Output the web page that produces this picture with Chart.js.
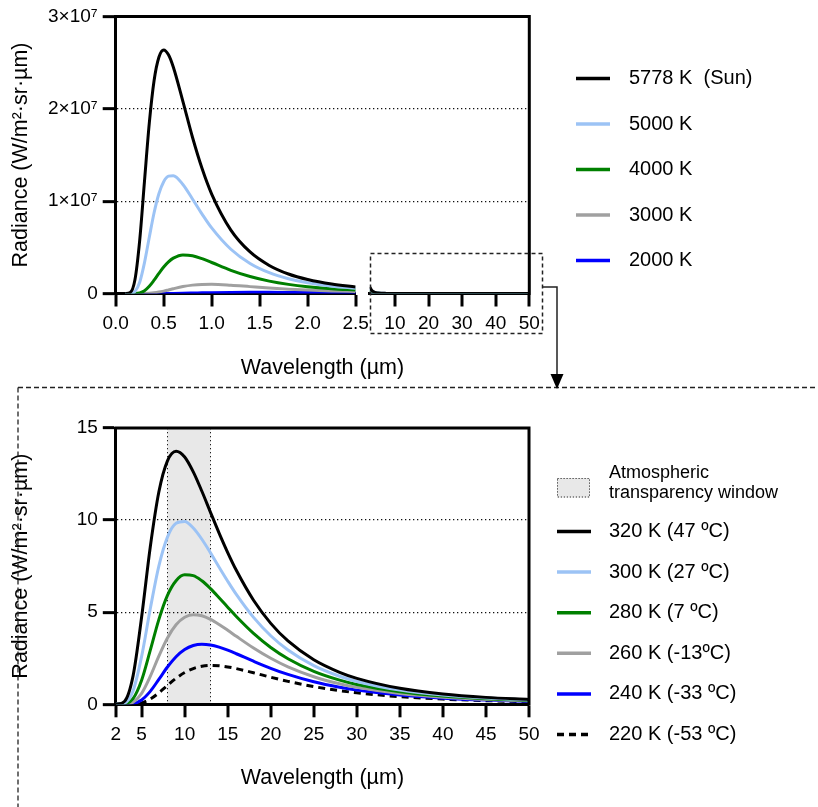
<!DOCTYPE html>
<html>
<head>
<meta charset="utf-8">
<title>Blackbody radiance</title>
<script src="https://cdn.jsdelivr.net/npm/chart.js@4.4.1/dist/chart.umd.min.js"></script>
<style>
  html, body { margin: 0; padding: 0; background: #fff; }
  #wrap { position: relative; width: 818px; height: 807px; overflow: hidden; }
  #wrap canvas { position: absolute; left: 0; }
  #top { top: 0; }
  #bottom { top: 380px; }
</style>
</head>
<body>
<div id="wrap">
  <canvas id="bottom" width="818" height="427"></canvas>
  <canvas id="top" width="818" height="400"></canvas>
</div>
<script>
// ---- top panel, left part of the broken axis (0 - 2.5 um), W/m2.sr.um
const visWl = [0.1, 0.15, 0.2, 0.25, 0.3, 0.35, 0.4, 0.45, 0.5, 0.55, 0.6, 0.7, 0.8, 0.9, 1.0, 1.2, 1.4, 1.6, 1.8, 2.0, 2.25, 2.5];
const rad5778 = [0, 9.7e4, 1.458e6, 5.763e6, 1.218e7, 1.845e7, 2.307e7, 2.559e7, 2.638e7, 2.585e7, 2.453e7, 2.081e7, 1.692e7, 1.353e7, 1.077e7, 6.87e6, 4.50e6, 3.04e6, 2.11e6, 1.51e6, 1.02e6, 7.14e5];
const rad5000 = [0, 7e3, 2.1e5, 1.223e6, 3.346e6, 6.096e6, 8.742e6, 1.080e7, 1.211e7, 1.271e7, 1.276e7, 1.181e7, 1.024e7, 8.60e6, 7.10e6, 4.79e6, 3.25e6, 2.25e6, 1.60e6, 1.16e6, 7.97e5, 5.64e5];
const rad4000 = [0, 0, 6e3, 6.9e4, 3.04e5, 7.81e5, 1.446e6, 2.180e6, 2.865e6, 3.423e6, 3.825e6, 4.182e6, 4.098e6, 3.776e6, 3.356e6, 2.514e6, 1.837e6, 1.341e6, 9.89e5, 7.38e5, 5.23e5, 3.79e5];
const rad3000 = [0, 0, 0, 0, 5.6e3, 2.5e4, 7.2e4, 1.52e5, 2.60e5, 3.87e5, 5.17e5, 7.51e5, 9.08e5, 9.83e5, 9.92e5, 8.96e5, 7.45e5, 5.97e5, 4.72e5, 3.72e5, 2.78e5, 2.10e5];
const rad2000 = [0, 0, 0, 0, 0, 0, 0, 7e2, 2.2e3, 4.9e3, 9.5e3, 2.44e4, 4.52e4, 6.81e4, 8.95e4, 1.195e5, 1.307e5, 1.281e5, 1.180e5, 1.049e5, 8.80e4, 7.27e4];

// ---- top panel, right part of the broken axis (2.5 - 50 um)
const tailWl = [2.5, 3, 4, 5, 7.5, 10, 15, 20, 30, 40, 50];
const tail5778 = [7.14e5, 3.79e5, 1.347e5, 5.91e4, 1.27e4, 4.2e3, 870, 280, 57, 18, 7.5];
const tail5000 = [5.64e5, 3.05e5, 1.104e5, 4.90e4, 1.07e4, 3.6e3, 740, 240, 49, 16, 6.5];
const tail4000 = [3.79e5, 2.12e5, 7.98e4, 3.62e4, 8.2e3, 2.75e3, 580, 190, 39, 12.5, 5.2];
const tail3000 = [2.10e5, 1.24e5, 5.02e4, 2.37e4, 5.6e3, 1.94e3, 420, 140, 29, 9.4, 3.9];
const tail2000 = [7.27e4, 4.90e4, 2.31e4, 1.19e4, 3.1e3, 1.13e3, 260, 90, 19, 6.2, 2.6];

// ---- bottom panel (2 - 50 um)
const irWl = [2, 3, 4, 5, 6, 7, 8, 9, 10, 11, 12, 13, 14, 15, 16, 18, 20, 22, 25, 28, 30, 35, 40, 45, 50];
const rad320 = [0, 0.152, 1.527, 4.739, 8.528, 11.523, 13.218, 13.741, 13.430, 12.622, 11.565, 10.423, 9.297, 8.239, 7.275, 5.649, 4.394, 3.439, 2.420, 1.738, 1.410, 0.868, 0.560, 0.376, 0.262];
const rad300 = [0, 0.056, 0.722, 2.602, 5.174, 7.505, 9.077, 9.829, 9.923, 9.572, 8.960, 8.222, 7.445, 6.684, 5.967, 4.718, 3.722, 2.945, 2.099, 1.523, 1.242, 0.772, 0.502, 0.339, 0.237];
const rad280 = [0, 0.018, 0.307, 1.312, 2.923, 4.599, 5.910, 6.707, 7.028, 6.987, 6.704, 6.280, 5.787, 5.273, 4.768, 3.850, 3.087, 2.475, 1.791, 1.314, 1.078, 0.679, 0.445, 0.303, 0.212];
const rad260 = [0, 0.005, 0.114, 0.595, 1.512, 2.614, 3.604, 4.318, 4.723, 4.864, 4.804, 4.610, 4.335, 4.020, 3.691, 3.054, 2.497, 2.032, 1.497, 1.113, 0.920, 0.587, 0.389, 0.267, 0.188];
const rad240 = [0, 0.001, 0.036, 0.237, 0.701, 1.352, 2.024, 2.585, 2.974, 3.191, 3.261, 3.220, 3.102, 2.936, 2.744, 2.338, 1.955, 1.621, 1.220, 0.922, 0.769, 0.499, 0.335, 0.231, 0.165];
const rad220 = [0, 0, 0.009, 0.080, 0.283, 0.621, 1.024, 1.410, 1.723, 1.941, 2.065, 2.110, 2.092, 2.030, 1.939, 1.711, 1.471, 1.246, 0.962, 0.741, 0.625, 0.414, 0.282, 0.197, 0.141];

const topLabels = ['5778 K  (Sun)', '5000 K', '4000 K', '3000 K', '2000 K'];
const bottomLabels = ['320 K (47 ºC)', '300 K (27 ºC)', '280 K (7 ºC)', '260 K (-13ºC)', '240 K (-33 ºC)', '220 K (-53 ºC)'];
const windowLabel = ['Atmospheric', 'transparency window'];
const windowRange = [8, 13];

const topTicksA = [0, 0.5, 1, 1.5, 2, 2.5];
const topTicksB = [10, 20, 30, 40, 50];
const topTicksY = [0, 1e7, 2e7, 3e7];
const bottomTicksX = [2, 5, 10, 15, 20, 25, 30, 35, 40, 45, 50];
const bottomTicksY = [0, 5, 10, 15];

const FONT = '"Liberation Sans", Arial, Helvetica, sans-serif';
const colors = ['#000000', '#9cc3f5', '#008000', '#a0a0a0', '#0000ff', '#000000'];

Chart.defaults.font.family = FONT;
Chart.defaults.color = '#000';

const tickFont = { family: FONT, size: 19 };
const titleFont = { family: FONT, size: 21.5 };

function pts(xs, ys) {
  return xs.map((x, i) => ({ x: x, y: ys[i] }));
}

function lineSet(label, data, color, xId, extra) {
  return Object.assign({
    label: label,
    data: data,
    xAxisID: xId,
    yAxisID: 'y',
    borderColor: color,
    backgroundColor: color,
    borderWidth: 3,
    pointRadius: 0,
    fill: false,
    cubicInterpolationMode: 'monotone'
  }, extra || {});
}

function fixedTicks(list) {
  return function(scale) { scale.ticks = list.map(v => ({ value: v })); };
}

function tickAxis(min, max, list, fmt) {
  return {
    type: 'linear', position: 'bottom', min: min, max: max,
    afterBuildTicks: fixedTicks(list),
    grid: { drawOnChartArea: false, drawTicks: true, tickLength: 13, tickWidth: 3, tickColor: '#000', lineWidth: 0 },
    border: { display: true, width: 3, color: '#000' },
    ticks: { font: tickFont, color: '#000', padding: 6, maxRotation: 0, autoSkip: false, callback: fmt }
  };
}

function valueAxis(max, list, fmt, width) {
  return {
    type: 'linear', position: 'left', min: 0, max: max,
    afterBuildTicks: fixedTicks(list),
    afterFit: s => { s.width = width; },
    grid: {
      drawOnChartArea: true, drawTicks: true, tickLength: 13, tickWidth: 3, tickColor: '#000', lineWidth: 1.3,
      color: c => (c.tick && c.tick.value > 0 && c.tick.value < max) ? '#111' : 'rgba(0,0,0,0)'
    },
    border: { display: true, width: 3, color: '#000', dash: [1.3, 2.7] },
    ticks: { font: tickFont, color: '#000', padding: 5, callback: fmt },
    title: { display: true, text: 'Radiance (W/m²·sr·µm)', font: titleFont, color: '#000', padding: { top: 8, bottom: 0 } }
  };
}

// thick frame on the top and right side of the plot area
const framePlugin = {
  id: 'frame',
  afterDraw(chart) {
    const { ctx, chartArea: a } = chart;
    ctx.save();
    ctx.strokeStyle = '#000';
    ctx.lineWidth = 3;
    ctx.beginPath();
    ctx.moveTo(a.left - 1.5, a.top);
    ctx.lineTo(a.right, a.top);
    ctx.lineTo(a.right, a.bottom + 1.5);
    ctx.stroke();
    ctx.restore();
  }
};

// legend on the right, built from the datasets
const sideLegend = {
  id: 'sideLegend',
  afterDraw(chart, args, opts) {
    const ctx = chart.ctx;
    ctx.save();
    ctx.textBaseline = 'middle';
    ctx.fillStyle = '#000';
    if (opts.windowBox) {
      const b = opts.windowBox;
      ctx.fillStyle = '#e8e8e8';
      ctx.fillRect(b[0], b[1], b[2], b[3]);
      ctx.strokeStyle = '#333';
      ctx.lineWidth = 1;
      ctx.setLineDash([1.2, 1.8]);
      ctx.strokeRect(b[0] + 0.5, b[1] + 0.5, b[2] - 1, b[3] - 1);
      ctx.setLineDash([]);
      ctx.fillStyle = '#000';
      ctx.font = '18px ' + FONT;
      windowLabel.forEach((t, i) => ctx.fillText(t, opts.textX, opts.windowTextY + i * 20.6));
    }
    ctx.font = '20px ' + FONT;
    let y = opts.top;
    chart.data.datasets.filter(d => d.inLegend !== false).forEach(d => {
      ctx.strokeStyle = d.borderColor;
      ctx.lineWidth = 3.5;
      ctx.setLineDash(d.borderDash || []);
      ctx.beginPath();
      ctx.moveTo(opts.lineX, y);
      ctx.lineTo(opts.lineX + opts.lineW, y);
      ctx.stroke();
      ctx.setLineDash([]);
      ctx.fillStyle = '#000';
      ctx.fillText(d.label, opts.textX, y);
      y += opts.step;
    });
    ctx.restore();
  }
};

// dashed box around the 2.5-50 um part and the arrow down to the second panel
const zoomMarks = {
  id: 'zoomMarks',
  afterDraw(chart) {
    const ctx = chart.ctx;
    ctx.save();
    ctx.strokeStyle = '#222';
    ctx.lineWidth = 1.5;
    ctx.setLineDash([4, 3]);
    ctx.strokeRect(370.5, 253.5, 172, 80);
    ctx.setLineDash([]);
    ctx.beginPath();
    ctx.moveTo(543, 287);
    ctx.lineTo(557, 287);
    ctx.lineTo(557, 376);
    ctx.stroke();
    ctx.fillStyle = '#000';
    ctx.beginPath();
    ctx.moveTo(550.5, 374);
    ctx.lineTo(563.5, 374);
    ctx.lineTo(557, 389);
    ctx.closePath();
    ctx.fill();
    ctx.restore();
  }
};

// grey band for the 8-13 um window + dashed frame of the lower panel
const windowBand = {
  id: 'windowBand',
  beforeDraw(chart) {
    const { ctx, chartArea: a, scales } = chart;
    const x0 = scales.x.getPixelForValue(windowRange[0]);
    const x1 = scales.x.getPixelForValue(windowRange[1]);
    ctx.save();
    ctx.fillStyle = '#e8e8e8';
    ctx.fillRect(x0, a.top, x1 - x0, a.bottom - a.top);
    ctx.strokeStyle = '#222';
    ctx.lineWidth = 1;
    ctx.setLineDash([1.3, 2.7]);
    [x0, x1].forEach(x => {
      ctx.beginPath();
      ctx.moveTo(Math.round(x) + 0.5, a.top);
      ctx.lineTo(Math.round(x) + 0.5, a.bottom);
      ctx.stroke();
    });
    ctx.restore();
  },
  afterDraw(chart) {
    const ctx = chart.ctx;
    ctx.save();
    ctx.strokeStyle = '#222';
    ctx.lineWidth = 1.3;
    ctx.setLineDash([5, 3]);
    ctx.beginPath();
    ctx.moveTo(18, 7.5);
    ctx.lineTo(818, 7.5);
    ctx.moveTo(18, 7.5);
    ctx.lineTo(18, 427);
    ctx.stroke();
    ctx.restore();
  }
};

// ---------- top chart ----------
const topSeries = [rad5778, rad5000, rad4000, rad3000, rad2000];
const tailSeries = [tail5778, tail5000, tail4000, tail3000, tail2000];
const topDatasets = [];
topSeries.forEach((s, i) => topDatasets.push(lineSet(topLabels[i], pts(visWl, s), colors[i], 'xa')));
tailSeries.forEach((s, i) => topDatasets.push(lineSet(topLabels[i], pts(tailWl, s), colors[i], 'xb', { inLegend: false })));

const xa = tickAxis(0, 2.5, topTicksA, v => v.toFixed(1));
Object.assign(xa, { stack: 'wl', stackWeight: 240, afterFit: s => { s.height = 40; } });
const xb = tickAxis(2.5, 50, topTicksB, v => String(v));
Object.assign(xb, { stack: 'wl', stackWeight: 159.6, afterFit: s => { s.height = 40; } });

new Chart(document.getElementById('top'), {
  type: 'line',
  data: { datasets: topDatasets },
  options: {
    responsive: false,
    animation: false,
    events: [],
    layout: { padding: { left: 0, top: 16.5, right: 288.7, bottom: 0 } },
    scales: {
      xa: xa,
      xgap: {
        type: 'linear', position: 'bottom', stack: 'wl', stackWeight: 14.1, min: 0, max: 1,
        afterFit: s => { s.height = 40; },
        grid: { display: false }, border: { display: false }, ticks: { display: false }
      },
      xb: xb,
      xt: {
        type: 'linear', position: 'bottom', weight: 1, min: 0, max: 1,
        afterFit: s => { s.height = 66.5; },
        grid: { display: false }, border: { display: false }, ticks: { display: false },
        title: { display: true, text: 'Wavelength (µm)', font: titleFont, color: '#000', padding: { top: 0, bottom: 19 } }
      },
      y: valueAxis(3e7, topTicksY, v => v === 0 ? '0' : (v / 1e7) + '×10⁷', 115.7)
    },
    plugins: {
      legend: { display: false },
      title: { display: false },
      tooltip: { enabled: false },
      sideLegend: { lineX: 576, lineW: 34, textX: 629, top: 78.5, step: 45.5 }
    }
  },
  plugins: [framePlugin, sideLegend, zoomMarks]
});

// ---------- bottom chart ----------
const bottomSeries = [rad320, rad300, rad280, rad260, rad240, rad220];
const bottomDatasets = bottomSeries.map((s, i) =>
  lineSet(bottomLabels[i], pts(irWl, s), colors[i], 'x', i === 5 ? { borderDash: [7, 5] } : {}));

const xBottom = tickAxis(2, 50, bottomTicksX, v => String(v));
Object.assign(xBottom, {
  afterFit: s => { s.height = 102.7; },
  title: { display: true, text: 'Wavelength (µm)', font: titleFont, color: '#000', padding: { top: 0, bottom: 16 } }
});

new Chart(document.getElementById('bottom'), {
  type: 'line',
  data: { datasets: bottomDatasets },
  options: {
    responsive: false,
    animation: false,
    events: [],
    layout: { padding: { left: 0, top: 48, right: 289, bottom: 0 } },
    scales: {
      x: xBottom,
      y: valueAxis(15, bottomTicksY, v => String(v), 115.8)
    },
    plugins: {
      legend: { display: false },
      title: { display: false },
      tooltip: { enabled: false },
      sideLegend: {
        lineX: 557, lineW: 34, textX: 609, top: 151.5, step: 40.6,
        windowBox: [557, 98, 33, 19.5], windowTextY: 92.7
      }
    }
  },
  plugins: [windowBand, framePlugin, sideLegend]
});
</script>
</body>
</html>
